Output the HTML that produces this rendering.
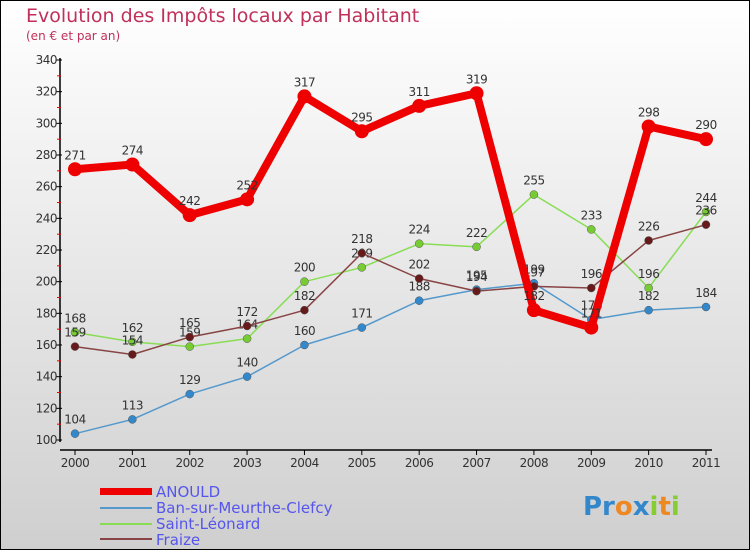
<!DOCTYPE html>
<html><head><meta charset="utf-8"><style>
body{margin:0}
#c{width:750px;height:550px;position:relative;overflow:hidden;font-family:"DejaVu Sans","Liberation Sans",sans-serif}
</style></head><body>
<div id="c">
<svg id="s" width="750" height="550" xmlns="http://www.w3.org/2000/svg">
<defs><linearGradient id="bg" x1="0" y1="0" x2="0" y2="1"><stop offset="0" stop-color="#ffffff"/><stop offset="1" stop-color="#cfcfcf"/></linearGradient></defs>
<rect x="0.5" y="0.5" width="749" height="549" fill="url(#bg)" stroke="#000"/>
<text x="26" y="22" font-size="19" fill="#c0305a">Evolution des Impôts locaux par Habitant</text>
<text x="26" y="40" font-size="12" fill="#c0305a">(en € et par an)</text>
<g id="axes"></g><g id="series"></g>
<g font-size="15" fill="#5555ee">
<rect x="100" y="488" width="52" height="7" fill="#ee0000"/>
<text x="156" y="497">ANOULD</text>
<line x1="100" y1="508" x2="152" y2="508" stroke="#5599cc" stroke-width="2"/>
<text x="156" y="513">Ban-sur-Meurthe-Clefcy</text>
<line x1="100" y1="524" x2="152" y2="524" stroke="#88dd55" stroke-width="2"/>
<text x="156" y="529">Saint-Léonard</text>
<line x1="100" y1="539" x2="152" y2="539" stroke="#884444" stroke-width="2"/>
<text x="156" y="545">Fraize</text>
</g>
<text x="583" y="515" font-size="26" font-weight="bold"><tspan fill="#3388cc">Pr</tspan><tspan fill="#ee8822">o</tspan><tspan fill="#3388cc">x</tspan><tspan fill="#88cc33">i</tspan><tspan fill="#ee8822">t</tspan><tspan fill="#88cc33">i</tspan></text>
</svg></div>
<script>
const years=["2000","2001","2002","2003","2004","2005","2006","2007","2008","2009","2010","2011"];
const anould=[271,274,242,252,317,295,311,319,182,171,298,290];
const ban=[104,113,129,140,160,171,188,195,199,176,182,184];
const leonard=[168,162,159,164,200,209,224,222,255,233,196,244];
const fraize=[159,154,165,172,182,218,202,194,197,196,226,236];
const yTicks=[100,120,140,160,180,200,220,240,260,280,300,320,340];
const NS="http://www.w3.org/2000/svg";
const X=i=>75+i*(706-75)/11, Y=v=>440-(v-100)*380/240;
function mk(t,a,p){const e=document.createElementNS(NS,t);for(const k in a)e.setAttribute(k,a[k]);p.appendChild(e);return e;}
const ax=document.getElementById('axes');
let e=mk('line',{x1:60,y1:58,x2:60,y2:442,stroke:'#000','stroke-width':1.5},ax);


e=mk('line',{x1:60,y1:450,x2:712,y2:450,stroke:'#000','stroke-width':1.5},ax);


yTicks.forEach((v,i)=>{
 mk('line',{x1:56,y1:Y(v),x2:62,y2:Y(v),stroke:'#000'},ax);
 if(i<yTicks.length-1)mk('line',{x1:57,y1:Y(v+10),x2:61,y2:Y(v+10),stroke:'#e00'},ax);
 const t=mk('text',{x:57,y:Y(v)+4,'font-size':12,'text-anchor':'end',fill:'#333','letter-spacing':'-0.5'},ax);t.textContent=v;
 
 
});
years.forEach((y,i)=>{
 mk('line',{x1:X(i),y1:450,x2:X(i),y2:455,stroke:'#000'},ax);
 const t=mk('text',{x:X(i),y:467,'font-size':12,'text-anchor':'middle',fill:'#333','letter-spacing':'-0.5'},ax);t.textContent=y;
 
 
});
const sg=document.getElementById('series');
function draw(name,data,col,w,r,dot){
 const g=mk('g',{},sg);
 
 
 mk('polyline',{points:data.map((v,i)=>X(i)+','+Y(v)).join(' '),fill:'none',stroke:col,'stroke-width':w,'stroke-linejoin':'round'},g);
 data.forEach((v,i)=>{
  const c=mk('circle',{cx:X(i),cy:Y(v),r:r,fill:dot,stroke:w>3?'none':'#555','stroke-width':0.5},g);
  
  
  const t=mk('text',{x:X(i),y:Y(v)-10,'font-size':12,'text-anchor':'middle',fill:'#333','letter-spacing':'-0.5'},g);t.textContent=v;
  
  
 });
}
draw('ban',ban,'#5599cc',1.5,4,'#3388cc');
draw('saint-leonard',leonard,'#88dd55',1.5,4,'#77cc33');
draw('fraize',fraize,'#884444',1.5,4,'#661a1a');
draw('anould',anould,'#ee0000',8,7,'#ee0000');
</script>
</body></html>
